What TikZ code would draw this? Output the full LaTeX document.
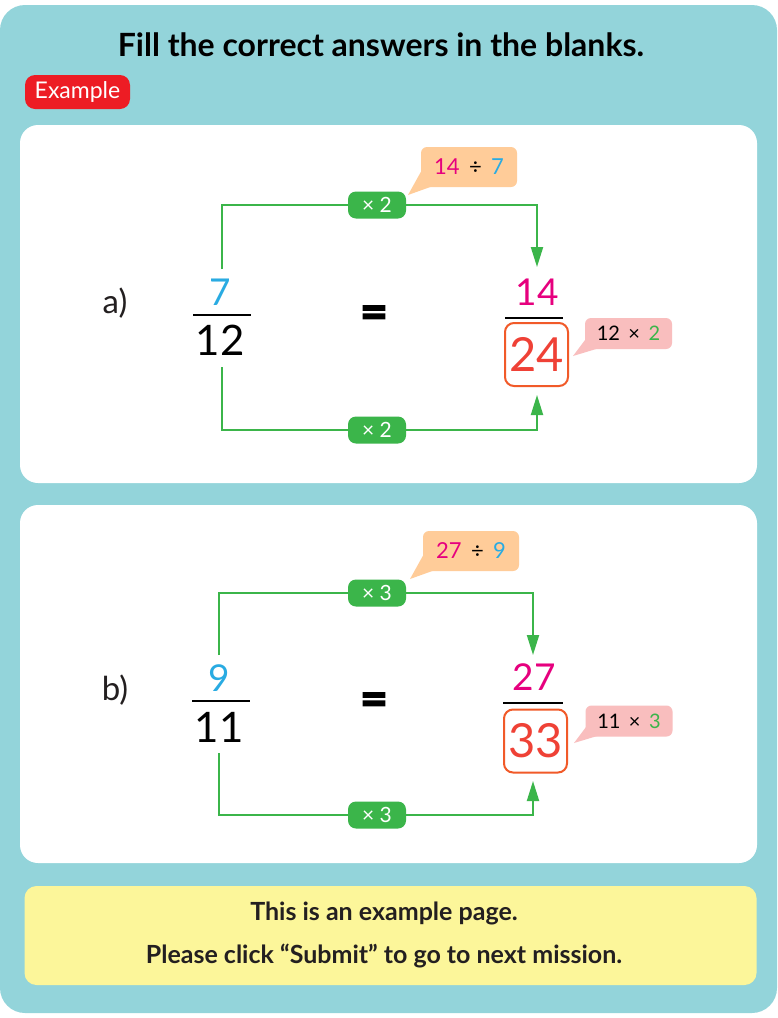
\documentclass[tikz,border=0pt]{standalone}
\usepackage{fontspec}
\setmainfont{Lato}
\usetikzlibrary{arrows.meta}
\definecolor{bgteal}{HTML}{93D4DA}
\definecolor{badgered}{HTML}{ED1C24}
\definecolor{pillgreen}{HTML}{3BB54A}
\definecolor{peach}{HTML}{FFCC99}
\definecolor{pinkhint}{HTML}{F9BEBE}
\definecolor{mag}{HTML}{E6007E}
\definecolor{skyblue}{HTML}{29ABE2}
\definecolor{ansred}{HTML}{EF4136}
\definecolor{boxorange}{HTML}{F15A29}
\definecolor{notey}{HTML}{FCF69A}
\definecolor{darktext}{HTML}{231F20}
\tikzset{
  panel/.style={fill=white, rounded corners=18pt},
  pill/.style={fill=pillgreen, text=white, rounded corners=8pt, minimum width=58pt, minimum height=27pt, inner sep=0pt, font=\fontsize{21}{21}\selectfont},
  glink/.style={draw=pillgreen, line width=2pt},
  garrow/.style={glink, -{Triangle[length=20pt,width=12pt]}},
  fracbar/.style={draw=black, line width=2pt},
  numtext/.style={inner sep=0pt, font=\fontsize{37}{37}\selectfont},
  dentext/.style={inner sep=0pt, font=\fontsize{42}{42}\selectfont},
  ansbox/.style={draw=boxorange, line width=2pt, rounded corners=9pt, minimum width=63pt, minimum height=63pt, inner sep=0pt, text=ansred, font=\fontsize{47}{47}\selectfont},
  peachhint/.style={fill=peach, rounded corners=6pt, minimum width=96pt, minimum height=40pt, inner sep=0pt, font=\fontsize{22}{22}\selectfont},
  pinkbox/.style={fill=pinkhint, rounded corners=6pt, minimum width=87pt, minimum height=31pt, inner sep=0pt, font=\fontsize{20}{20}\selectfont},
  partlabel/.style={inner sep=0pt, text=darktext, font=\fontsize{33}{33}\selectfont},
  eqsign/.style={inner sep=0pt, font=\addfontfeature{FakeBold=3}\bfseries\fontsize{48}{48}\selectfont},
  notetext/.style={inner sep=0pt, font=\bfseries\fontsize{25}{25}\selectfont, text=darktext},
}
\begin{document}
\begin{tikzpicture}[x=1pt,y=-1pt]
\useasboundingbox (0,0) rectangle (777,1018);
\fill[bgteal, rounded corners=25pt] (0,5) rectangle (777,1013);

% title and badge
\node[inner sep=0pt, font=\bfseries\fontsize{32}{32}\selectfont] (title) at (381,45) {Fill the correct answers in the blanks.};
\node[fill=badgered, text=white, rounded corners=10pt, minimum width=105pt, minimum height=34pt, inner sep=0pt, font=\fontsize{23}{23}\selectfont] (example) at (77.5,92) {Example};

% panels
\fill[panel] (20,125) rectangle (757,483);
\fill[panel] (20,505) rectangle (757,863);
\node[fill=notey, rounded corners=12pt, minimum width=732pt, minimum height=99pt, inner sep=0pt] (note) at (390.5,935.5) {};
\node[notetext] (note1) at (384,913) {This is an example page.};
\node[notetext] (note2) at (384,956) {Please click “Submit” to go to next mission.};

% ---------- panel a ----------
\node[partlabel] (a-lab) at (115,303) {a)};
\node[numtext, text=skyblue] (a-num) at (220,292) {7};
\coordinate (a-barl) at (193,315); \coordinate (a-barr) at (251,315);
\draw[fracbar] (a-barl) -- (a-barr);
\node[dentext] (a-den) at (220,340) {12};
\node[eqsign] (a-eq) at (374,317) {=};
\node[numtext, text=mag] (a-num2) at (537,292) {14};
\coordinate (a-bar2l) at (505,318); \coordinate (a-bar2r) at (563,318);
\draw[fracbar] (a-bar2l) -- (a-bar2r);
\node[ansbox] (a-ans) at (536.5,354.5) {24};

\coordinate (a-ls) at (222,269);
\coordinate (a-top) at (377,205);
\coordinate (a-rt) at (537,267);
\draw[garrow] (a-ls) -- (a-ls |- a-top) -- (a-rt |- a-top) -- (a-rt);
\coordinate (a-lb) at (222,367);
\coordinate (a-bot) at (377,430);
\coordinate (a-rb) at (537,395);
\draw[garrow] (a-lb) -- (a-lb |- a-bot) -- (a-rb |- a-bot) -- (a-rb);
\node[pill] (a-pilltop) at (a-top) {× 2};
\node[pill] (a-pillbot) at (a-bot) {× 2};

\fill[peach] (408,195) -- (423,168) -- (447,181) -- cycle;
\node[peachhint] (a-hint1) at (469,167) {{\color{mag}14} \,÷\, {\color{skyblue}7}};
\fill[pinkhint] (573,356) -- (588,336) -- (606,346) -- cycle;
\node[pinkbox] (a-hint2) at (628.5,333.5) {12 \,×\, {\color{pillgreen}2}};

% ---------- panel b ----------
\node[partlabel] (b-lab) at (115,690) {b)};
\node[numtext, text=skyblue] (b-num) at (219,678) {9};
\coordinate (b-barl) at (192,701); \coordinate (b-barr) at (250,701);
\draw[fracbar] (b-barl) -- (b-barr);
\node[dentext] (b-den) at (219,727) {11};
\node[eqsign] (b-eq) at (374,704) {=};
\node[numtext, text=mag] (b-num2) at (534,677) {27};
\coordinate (b-bar2l) at (503,703); \coordinate (b-bar2r) at (563,703);
\draw[fracbar] (b-bar2l) -- (b-bar2r);
\node[ansbox] (b-ans) at (535.5,741) {33};

\coordinate (b-ls) at (219,655);
\coordinate (b-top) at (377,593);
\coordinate (b-rt) at (533,655);
\draw[garrow] (b-ls) -- (b-ls |- b-top) -- (b-rt |- b-top) -- (b-rt);
\coordinate (b-lb) at (219,753);
\coordinate (b-bot) at (377,815);
\coordinate (b-rb) at (533,781);
\draw[garrow] (b-lb) -- (b-lb |- b-bot) -- (b-rb |- b-bot) -- (b-rb);
\node[pill] (b-pilltop) at (b-top) {× 3};
\node[pill] (b-pillbot) at (b-bot) {× 3};

\fill[peach] (410,579) -- (425,552) -- (449,565) -- cycle;
\node[peachhint] (b-hint1) at (471,551) {{\color{mag}27} \,÷\, {\color{skyblue}9}};
\fill[pinkhint] (574,743) -- (589,723) -- (607,733) -- cycle;
\node[pinkbox] (b-hint2) at (629,721) {11 \,×\, {\color{pillgreen}3}};
\end{tikzpicture}
\end{document}
